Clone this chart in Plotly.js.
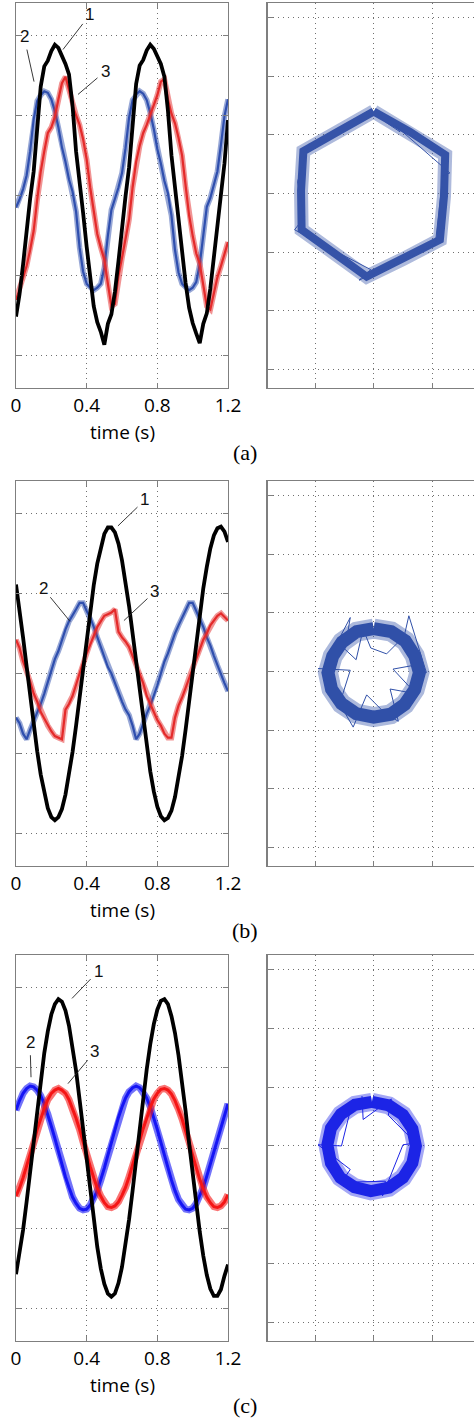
<!DOCTYPE html>
<html>
<head>
<meta charset="utf-8">
<script src="https://cdn.plot.ly/plotly-3.0.1.min.js"></script>
<style>
html,body{margin:0;padding:0;background:#ffffff;}
#chart{width:474px;height:1420px;}
</style>
</head>
<body>
<div id="chart"></div>
<script>
// ---------------- data ----------------
const TIME = [0,0.02,0.04,0.06,0.08,0.1,0.12,0.14,0.16,0.18,0.2,0.22,0.24,0.26,0.28,0.3,0.32,0.34,0.36,0.38,0.4,0.42,0.44,0.46,0.48,0.5,0.52,0.54,0.56,0.58,0.6,0.62,0.64,0.66,0.68,0.7,0.72,0.74,0.76,0.78,0.8,0.82,0.84,0.86,0.88,0.9,0.92,0.94,0.96,0.98,1,1.02,1.04,1.06,1.08,1.1,1.12,1.14,1.16,1.18,1.2];

// panel (a)
const A_CURVE1 = [-1.51,-1.23,-0.86,-0.42,-0.04,0.30,0.82,1.36,1.61,1.68,1.80,1.88,1.84,1.74,1.64,1.51,1.12,0.55,0.11,-0.22,-0.64,-1.06,-1.38,-1.58,-1.70,-1.86,-1.60,-1.48,-1.20,-0.82,-0.38,-0.01,0.35,0.88,1.39,1.62,1.69,1.81,1.88,1.83,1.73,1.64,1.48,1.06,0.50,0.08,-0.26,-0.68,-1.09,-1.40,-1.59,-1.72,-1.84,-1.60,-1.47,-1.16,-0.78,-0.34,0.02,0.40,0.94];
const A_CURVE2 = [-0.15,-0.05,0.08,0.25,0.55,0.95,1.18,1.25,1.30,1.28,1.20,1.05,0.85,0.60,0.42,0.20,0.05,-0.20,-0.65,-0.95,-1.10,-1.15,-1.18,-1.15,-1.10,-0.90,-0.50,-0.18,-0.04,0.10,0.28,0.59,0.97,1.19,1.26,1.30,1.27,1.19,1.03,0.83,0.58,0.40,0.18,0.03,-0.25,-0.68,-0.96,-1.10,-1.15,-1.18,-1.15,-1.08,-0.86,-0.47,-0.14,-0.03,0.12,0.30,0.63,0.99,1.20];
const A_CURVE3 = [-1.30,-1.18,-1.02,-0.88,-0.68,-0.44,-0.05,0.30,0.55,0.78,0.85,0.98,1.20,1.40,1.48,1.32,1.12,1.00,0.88,0.70,0.45,0.10,-0.22,-0.48,-0.65,-0.80,-1.10,-1.38,-1.35,-1.00,-0.78,-0.55,-0.30,0.10,0.42,0.62,0.78,0.88,1.00,1.12,1.25,1.42,1.45,1.20,1.02,0.90,0.72,0.50,0.10,-0.25,-0.50,-0.72,-0.85,-1.10,-1.38,-1.42,-1.20,-1.02,-0.88,-0.72,-0.58];
const A_XY_X = [0.00,0.62,1.22,1.20,1.13,0.50,-0.12,-0.70,-1.23,-1.24,-1.20,-0.60,0.00];
const A_XY_Y = [1.40,1.05,0.66,-0.05,-0.79,-1.12,-1.42,-1.00,-0.62,0.05,0.72,1.06,1.40];
const A_SPIKE_X = [0.20,0.45,0.38,1.30,1.18,1.05,0.90,-0.25,-0.05,-1.35,-1.18,-1.30,-1.10];
const A_SPIKE_Y = [1.22,1.05,1.15,0.35,0.30,-0.88,-0.95,-1.48,-1.30,-0.62,-0.40,0.20,0.85];

// panel (b)
const B_CURVE1 = [1.11,0.80,0.45,0.09,-0.28,-0.64,-0.97,-1.26,-1.50,-1.68,-1.79,-1.83,-1.79,-1.69,-1.51,-1.27,-0.98,-0.65,-0.30,0.07,0.44,0.78,1.10,1.37,1.58,1.74,1.82,1.82,1.76,1.62,1.41,1.15,0.84,0.50,0.14,-0.23,-0.59,-0.92,-1.22,-1.47,-1.66,-1.78,-1.83,-1.80,-1.71,-1.54,-1.31,-1.03,-0.70,-0.35,0.02,0.39,0.74,1.06,1.33,1.56,1.72,1.81,1.83,1.77,1.64];
const B_CURVE2 = [-0.55,-0.62,-0.75,-0.82,-0.70,-0.60,-0.50,-0.38,-0.25,-0.10,0.05,0.18,0.28,0.42,0.55,0.65,0.72,0.80,0.88,0.88,0.78,0.70,0.58,0.45,0.34,0.20,0.08,0.00,-0.12,-0.25,-0.35,-0.45,-0.52,-0.65,-0.82,-0.75,-0.62,-0.50,-0.40,-0.28,-0.15,0.00,0.15,0.25,0.38,0.50,0.60,0.70,0.80,0.88,0.88,0.78,0.70,0.58,0.45,0.35,0.22,0.10,0.00,-0.12,-0.22];
const B_CURVE3 = [0.42,0.32,0.15,0.04,-0.10,-0.25,-0.35,-0.48,-0.56,-0.65,-0.72,-0.78,-0.80,-0.82,-0.45,-0.38,-0.28,-0.15,0.00,0.14,0.25,0.38,0.48,0.58,0.65,0.72,0.74,0.76,0.80,0.52,0.45,0.40,0.33,0.22,0.10,0.00,-0.12,-0.28,-0.38,-0.48,-0.58,-0.65,-0.75,-0.80,-0.80,-0.55,-0.40,-0.30,-0.18,-0.05,0.08,0.20,0.30,0.42,0.50,0.60,0.66,0.72,0.75,0.70,0.66];
const B_XY_X = [0.00,0.30,0.54,0.70,0.78,0.70,0.53,0.29,0.00,-0.30,-0.55,-0.72,-0.78,-0.70,-0.54,-0.29,0.00];
const B_XY_Y = [0.73,0.68,0.52,0.27,-0.02,-0.31,-0.56,-0.73,-0.78,-0.72,-0.55,-0.30,-0.02,0.26,0.50,0.68,0.73];
const B_SPIKE_X = [-0.45,-0.40,-0.62,-0.30,-0.18,-0.05,0.22,0.52,0.60,0.90,0.66,0.33,0.72,0.28,0.42,0.20,-0.12,-0.35,-0.58,-0.40,-0.95];
const B_SPIKE_Y = [0.62,0.92,0.50,0.20,0.72,0.40,0.30,0.60,0.95,-0.02,0.10,0.04,-0.38,-0.30,-0.85,-0.72,-0.40,-0.95,-0.55,0.02,0.05];

// panel (c)
const C_CURVE1 = [-1.57,-1.32,-1.02,-0.67,-0.30,0.10,0.48,0.85,1.18,1.45,1.66,1.79,1.85,1.82,1.71,1.52,1.27,0.96,0.60,0.22,-0.17,-0.56,-0.92,-1.23,-1.50,-1.69,-1.81,-1.85,-1.81,-1.68,-1.48,-1.21,-0.89,-0.53,-0.14,0.25,0.63,0.98,1.29,1.54,1.72,1.83,1.85,1.79,1.64,1.43,1.15,0.82,0.46,0.06,-0.32,-0.69,-1.04,-1.34,-1.58,-1.75,-1.84,-1.84,-1.76,-1.59,-1.45];
const C_CURVE2 = [0.47,0.59,0.68,0.74,0.77,0.76,0.72,0.65,0.55,0.42,0.27,0.12,-0.04,-0.21,-0.36,-0.49,-0.61,-0.69,-0.75,-0.77,-0.76,-0.71,-0.63,-0.53,-0.40,-0.25,-0.09,0.07,0.23,0.38,0.51,0.62,0.70,0.75,0.77,0.75,0.70,0.62,0.51,0.38,0.23,0.07,-0.09,-0.25,-0.40,-0.53,-0.64,-0.71,-0.76,-0.77,-0.75,-0.69,-0.60,-0.49,-0.35,-0.20,-0.04,0.12,0.28,0.42,0.55];
const C_CURVE3 = [-0.60,-0.50,-0.37,-0.23,-0.08,0.07,0.23,0.37,0.49,0.60,0.68,0.72,0.74,0.72,0.68,0.60,0.49,0.37,0.23,0.07,-0.08,-0.23,-0.37,-0.50,-0.60,-0.68,-0.73,-0.74,-0.72,-0.67,-0.59,-0.49,-0.36,-0.22,-0.07,0.09,0.24,0.38,0.50,0.61,0.68,0.73,0.74,0.72,0.67,0.59,0.48,0.36,0.21,0.06,-0.10,-0.25,-0.39,-0.51,-0.61,-0.68,-0.73,-0.74,-0.72,-0.67,-0.58];
const C_XY_X = [-0.03,0.26,0.50,0.66,0.72,0.66,0.50,0.26,-0.05,-0.33,-0.57,-0.73,-0.79,-0.73,-0.56,-0.32,-0.03];
const C_XY_Y = [0.75,0.69,0.53,0.29,0.00,-0.29,-0.54,-0.71,-0.77,-0.70,-0.54,-0.29,0.02,0.30,0.54,0.70,0.75];
const C_SPIKE_X = [-0.20,-0.18,0.30,0.25,0.72,0.50,0.15,0.20,-0.55,-0.40,-0.95,-0.55,-0.35];
const C_SPIKE_Y = [0.85,0.45,0.80,0.52,0.05,0.02,-0.85,-0.60,-0.62,-0.40,0.02,0.00,0.80];

// labels
const TICK_VALUES = [0,0.4,0.8,1.2];
const TICK_TEXT = ['0','0.4','0.8','1.2'];
const X_TITLE = 'time (s)';
const PANEL_NAMES = ['(a)','(b)','(c)'];
const CURVE_NAMES = ['1','2','3'];

// ---------------- layout helpers ----------------
const W = 474, H = 1420;
const py = p => 1 - p / H;
const px = p => p / W;

const panels = [
  {top:3,   bottom:388,  c1:A_CURVE1, c2:A_CURVE2, c3:A_CURVE3, xyx:A_XY_X, xyy:A_XY_Y,
   blue:'#2f4fae', red:'#e42a2a', xyColor:'#3553a8', band:{w:5.5, op:0.5, core:2.2},
   ring:{core:8, halo:14}, spikes:[A_SPIKE_X, A_SPIKE_Y],
   tags:[{x:0.266,y:1.82,ax:27,ay:-35},{x:0.102,y:1.42,ax:-10,ay:-45},{x:0.351,y:1.26,ax:27,ay:-23}]},
  {top:481, bottom:866,  c1:B_CURVE1, c2:B_CURVE2, c3:B_CURVE3, xyx:B_XY_X, xyy:B_XY_Y,
   blue:'#2f4fae', red:'#e42a2a', xyColor:'#3050a8', band:{w:5.5, op:0.5, core:2.2},
   ring:{core:13, halo:20}, spikes:[B_SPIKE_X, B_SPIKE_Y],
   tags:[{x:0.577,y:1.84,ax:27,ay:-26},{x:0.306,y:0.65,ax:-27,ay:-33},{x:0.611,y:0.66,ax:31,ay:-29}]},
  {top:955, bottom:1341, c1:C_CURVE1, c2:C_CURVE2, c3:C_CURVE3, xyx:C_XY_X, xyy:C_XY_Y,
   blue:'#1515f5', red:'#f51515', xyColor:'#1c24e6', band:{w:7, op:0.6, core:3},
   ring:{core:12, halo:18}, spikes:[C_SPIKE_X, C_SPIKE_Y],
   tags:[{x:0.317,y:1.86,ax:26,ay:-27},{x:0.085,y:0.88,ax:-1,ay:-35},{x:0.294,y:0.80,ax:27,ay:-32}]}
];

const GRID = {showgrid:true, gridcolor:'#707070', gridwidth:1, griddash:'1px,4px', zeroline:false};
const FRAME = {showline:true, linecolor:'#7f7f7f', linewidth:1.3, ticks:'inside', ticklen:5, tickcolor:'#7f7f7f', tickwidth:1};

const traces = [];
const layout = {
  width: W, height: H,
  margin: {l:0, r:0, t:0, b:0},
  paper_bgcolor: '#ffffff', plot_bgcolor: '#ffffff',
  showlegend: false,
  annotations: [],
  font: {family: 'Open Sans, sans-serif', color: '#000000'}
};

panels.forEach((p, i) => {
  const nL = 2*i + 1, nR = 2*i + 2;
  const xL = 'x' + nL, yL = 'y' + nL, xR = 'x' + nR, yR = 'y' + nR;
  const dom = [py(p.bottom), py(p.top)];

  layout['xaxis' + nL] = Object.assign({}, GRID, FRAME, {
    domain: [px(16), px(228)], range: [0, 1.2], anchor: yL,
    tickvals: TICK_VALUES, ticktext: TICK_TEXT, mirror: 'ticks',
    tickfont: {family: 'Open Sans, sans-serif', size: 19, color: '#000000'}
  });
  layout['yaxis' + nL] = Object.assign({}, GRID, FRAME, {
    domain: dom, range: [-2.4, 2.4], anchor: xL, dtick: 1, tick0: 0,
    showticklabels: false, mirror: 'ticks'
  });
  layout['xaxis' + nR] = Object.assign({}, GRID, FRAME, {
    domain: [px(267.7), 1], range: [-1.809, 1.712], anchor: yR, dtick: 1, tick0: 0,
    showticklabels: false, mirror: true
  });
  layout['yaxis' + nR] = Object.assign({}, GRID, FRAME, {
    domain: dom, range: [-3.32, 3.25], anchor: xR, dtick: 1, tick0: 0,
    showticklabels: false
  });

  // noisy curves 2 and 3: soft band + core
  [[p.c2, p.blue], [p.c3, p.red]].forEach(([vals, col]) => {
    traces.push({type:'scatter', mode:'lines', x:TIME, y:vals, xaxis:xL, yaxis:yL,
      line:{color:col, width:p.band.w}, opacity:p.band.op, hoverinfo:'skip'});
    traces.push({type:'scatter', mode:'lines', x:TIME, y:vals, xaxis:xL, yaxis:yL,
      line:{color:col, width:p.band.core}, hoverinfo:'skip'});
  });
  traces.push({type:'scatter', mode:'lines', x:TIME, y:p.c1, xaxis:xL, yaxis:yL,
    line:{color:'#000000', width:3.8}, hoverinfo:'skip'});

  // x-y trajectory
  traces.push({type:'scatter', mode:'lines', x:p.xyx, y:p.xyy, xaxis:xR, yaxis:yR,
    line:{color:p.xyColor, width:p.ring.halo}, opacity:0.4, hoverinfo:'skip'});
  traces.push({type:'scatter', mode:'lines', x:p.xyx, y:p.xyy, xaxis:xR, yaxis:yR,
    line:{color:p.xyColor, width:p.ring.core}, hoverinfo:'skip'});
  traces.push({type:'scatter', mode:'lines', x:p.spikes[0], y:p.spikes[1], xaxis:xR, yaxis:yR,
    line:{color:p.xyColor, width:1}, hoverinfo:'skip'});

  // curve numbers with leader lines
  p.tags.forEach((t, k) => {
    layout.annotations.push({
      xref: xL, yref: yL, x: t.x, y: t.y, ax: t.ax, ay: t.ay,
      text: CURVE_NAMES[k], showarrow: true, arrowhead: 0, arrowwidth: 0.9,
      arrowcolor: '#222222', standoff: 0, startstandoff: 2,
      font: {family: 'Liberation Sans, Arial, sans-serif', size: 17, color: '#111111'}
    });
  });

  // axis title and panel label
  layout.annotations.push({
    xref: 'paper', yref: 'paper', x: px(122), y: py(p.bottom + 44),
    xanchor: 'center', yanchor: 'middle', showarrow: false, text: X_TITLE,
    font: {family: 'Open Sans, sans-serif', size: 19, color: '#000000'}
  });
  layout.annotations.push({
    xref: 'paper', yref: 'paper', x: px(245), y: py(p.bottom + 64),
    xanchor: 'center', yanchor: 'middle', showarrow: false, text: PANEL_NAMES[i],
    font: {family: 'Liberation Serif, Times New Roman, serif', size: 22, color: '#000000'}
  });
});

Plotly.newPlot('chart', traces, layout, {staticPlot: true, displayModeBar: false});
</script>
</body>
</html>
